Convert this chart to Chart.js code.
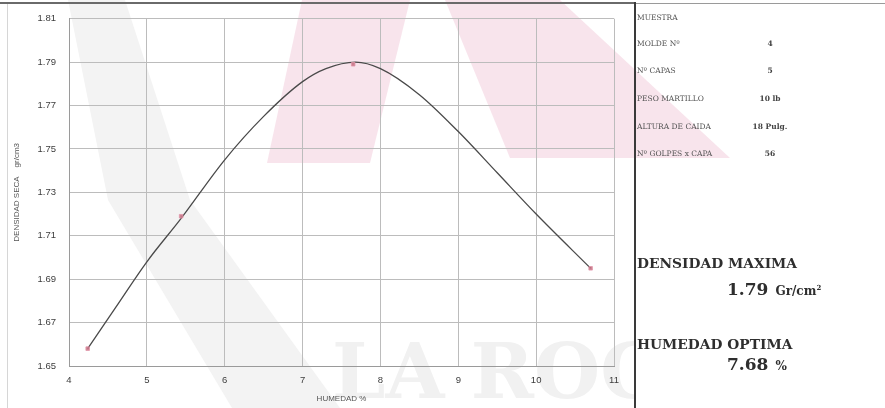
<!DOCTYPE html>
<html>
<head>
<meta charset="utf-8">
<script src="https://cdn.jsdelivr.net/npm/chart.js@4/dist/chart.umd.min.js"></script>
<style>
  body { margin: 0; background: #fff; }
  #wrap { position: relative; width: 885px; height: 408px; overflow: hidden; }
  #compaction { position: absolute; left: 0; top: 0; }
  .rule { position: absolute; }
  .spec { position: absolute; font-family: "DejaVu Serif", serif; font-size: 7.5px; color: #555;
          transform: translateY(-50%); white-space: nowrap; }
  .specVal { position: absolute; font-family: "DejaVu Serif", serif; font-size: 7.5px; color: #444;
             font-weight: bold; transform: translate(-50%, -50%); white-space: nowrap; }
  .head { position: absolute; font-family: "DejaVu Serif", serif; font-weight: bold; font-size: 13.8px;
          color: #2e2e2e; transform: translateY(-50%); white-space: nowrap; }
  .big { position: absolute; font-family: "DejaVu Serif", serif; font-weight: bold; color: #2e2e2e;
         transform: translateY(-50%); white-space: nowrap; }
  .big .num { font-size: 17px; }
  .big .unit { font-size: 12px; margin-left: 7px; }
  .big sup { font-size: 7px; }
</style>
</head>
<body>
<div id="wrap">
  <canvas id="compaction" width="885" height="408"></canvas>
  <div class="rule" style="left:0;top:2px;width:635px;height:2px;background:#6a6a6a"></div>
  <div class="rule" style="left:635px;top:3px;width:250px;height:1px;background:#9a9a9a"></div>
  <div class="rule" style="left:634px;top:2px;width:2px;height:406px;background:#3a3a3a"></div>
  <div class="rule" style="left:7px;top:4px;width:1px;height:404px;background:#d6d6d6"></div>
  <div id="panel"></div>
</div>
<script>
// Proctor test: measured points
const moisture = [4.24, 5.44, 7.65, 10.70];
const dryDensity = [1.658, 1.719, 1.789, 1.695];

// fitted compaction curve
const curveMoisture = [4.24, 4.60, 5.00, 5.44, 6.00, 6.50, 7.00, 7.30, 7.68, 8.00, 8.50, 9.00, 9.50, 10.00, 10.70];
const curveDensity = [1.658, 1.677, 1.698, 1.718, 1.745, 1.765, 1.781, 1.787, 1.790, 1.787, 1.775, 1.758, 1.739, 1.720, 1.695];

const xTicks = [4, 5, 6, 7, 8, 9, 10, 11];
const yTicks = [1.65, 1.67, 1.69, 1.71, 1.73, 1.75, 1.77, 1.79, 1.81];

// test setup table
const specLabels = ["MUESTRA", "MOLDE Nº", "Nº CAPAS", "PESO MARTILLO", "ALTURA DE CAIDA", "Nº GOLPES x CAPA"];
const specValues = ["", "4", "5", "10 lb", "18 Pulg.", "56"];

const maxDensity = 1.79;
const optMoisture = 7.68;

// right-hand panel
const panel = document.getElementById("panel");
const rowY = [17, 43, 70, 98, 126, 153];
specLabels.forEach((txt, i) => {
    const l = document.createElement("div");
    l.className = "spec";
    l.style.left = "637px";
    l.style.top = rowY[i] + "px";
    l.textContent = txt;
    panel.appendChild(l);
    if (specValues[i]) {
        const v = document.createElement("div");
        v.className = "specVal";
        v.style.left = "770px";
        v.style.top = rowY[i] + "px";
        v.textContent = specValues[i];
        panel.appendChild(v);
    }
});
panel.insertAdjacentHTML("beforeend",
    `<div class="head" style="left:637px;top:263px">DENSIDAD MAXIMA</div>
     <div class="big" style="left:727px;top:289px"><span class="num">${maxDensity.toFixed(2)}</span><span class="unit">Gr/cm<sup>2</sup></span></div>
     <div class="head" style="left:637px;top:344px">HUMEDAD OPTIMA</div>
     <div class="big" style="left:727px;top:364px"><span class="num">${optMoisture.toFixed(2)}</span><span class="unit">%</span></div>`);

// faint lab logo behind the plot
const watermark = {
    id: "watermark",
    beforeDraw(c) {
        const ctx = c.ctx;
        ctx.save();
        ctx.fillStyle = "#fff";
        ctx.fillRect(0, 0, c.width, c.height);
        const poly = (pts, color) => {
            ctx.beginPath();
            pts.forEach(([x, y], i) => i ? ctx.lineTo(x, y) : ctx.moveTo(x, y));
            ctx.closePath();
            ctx.fillStyle = color;
            ctx.fill();
        };
        poly([[68, 0], [125, 0], [190, 200], [340, 408], [232, 408], [108, 200]], "#f3f3f3");
        poly([[302, 0], [410, 0], [370, 163], [267, 163]], "rgba(240,196,212,0.45)");
        poly([[445, 0], [560, 0], [730, 158], [510, 158]], "rgba(240,196,212,0.45)");
        ctx.beginPath();
        ctx.rect(0, 0, 634, 408);
        ctx.clip();
        ctx.font = 'bold 76px "DejaVu Serif"';
        ctx.fillStyle = "#f1f1f1";
        ctx.fillText("LA ROCA", 332, 398);
        ctx.restore();
    }
};

const gridColor = "#bcbcbc";
const tickFont = { family: "Liberation Sans", size: 9.5 };

new Chart(document.getElementById("compaction"), {
    type: "scatter",
    data: {
        datasets: [
            {
                label: "Ensayos",
                data: moisture.map((x, i) => ({ x, y: dryDensity[i] })),
                showLine: false,
                pointStyle: "rect",
                pointRadius: 2.5,
                backgroundColor: "rgba(196,110,128,0.85)",
                borderColor: "rgba(226,150,170,0.8)",
                borderWidth: 1
            },
            {
                label: "Curva",
                data: curveMoisture.map((x, i) => ({ x, y: curveDensity[i] })),
                showLine: true,
                cubicInterpolationMode: "monotone",
                pointRadius: 0,
                borderColor: "#4a4a4a",
                borderWidth: 1.3
            }
        ]
    },
    options: {
        responsive: false,
        animation: false,
        layout: { padding: { left: 0, right: 271, top: 18, bottom: 0 } },
        plugins: { legend: { display: false }, tooltip: { enabled: false } },
        scales: {
            x: {
                type: "linear",
                min: xTicks[0],
                max: xTicks[xTicks.length - 1],
                afterBuildTicks: s => { s.ticks = xTicks.map(v => ({ value: v })); },
                afterFit: s => { s.height = 42; },
                grid: { color: gridColor, drawTicks: false },
                border: { color: "#9a9a9a" },
                ticks: { font: tickFont, color: "#3c3c3c", padding: 9, callback: v => String(v) },
                title: { display: true, text: "HUMEDAD %", font: { family: "Liberation Sans", size: 8 },
                         color: "#555", padding: { top: 0, bottom: 4 } }
            },
            y: {
                min: yTicks[0],
                max: yTicks[yTicks.length - 1],
                afterBuildTicks: s => { s.ticks = yTicks.map(v => ({ value: v })); },
                afterFit: s => { s.width = 69; },
                grid: { color: gridColor, drawTicks: false },
                border: { color: "#9a9a9a" },
                ticks: { font: tickFont, color: "#3c3c3c", padding: 13, callback: v => v.toFixed(2) },
                title: { display: true, text: "DENSIDAD SECA    gr/cm3", font: { family: "Liberation Sans", size: 8 },
                         color: "#555", padding: { top: 12, bottom: 0 } }
            }
        }
    },
    plugins: [watermark]
});
</script>
</body>
</html>
